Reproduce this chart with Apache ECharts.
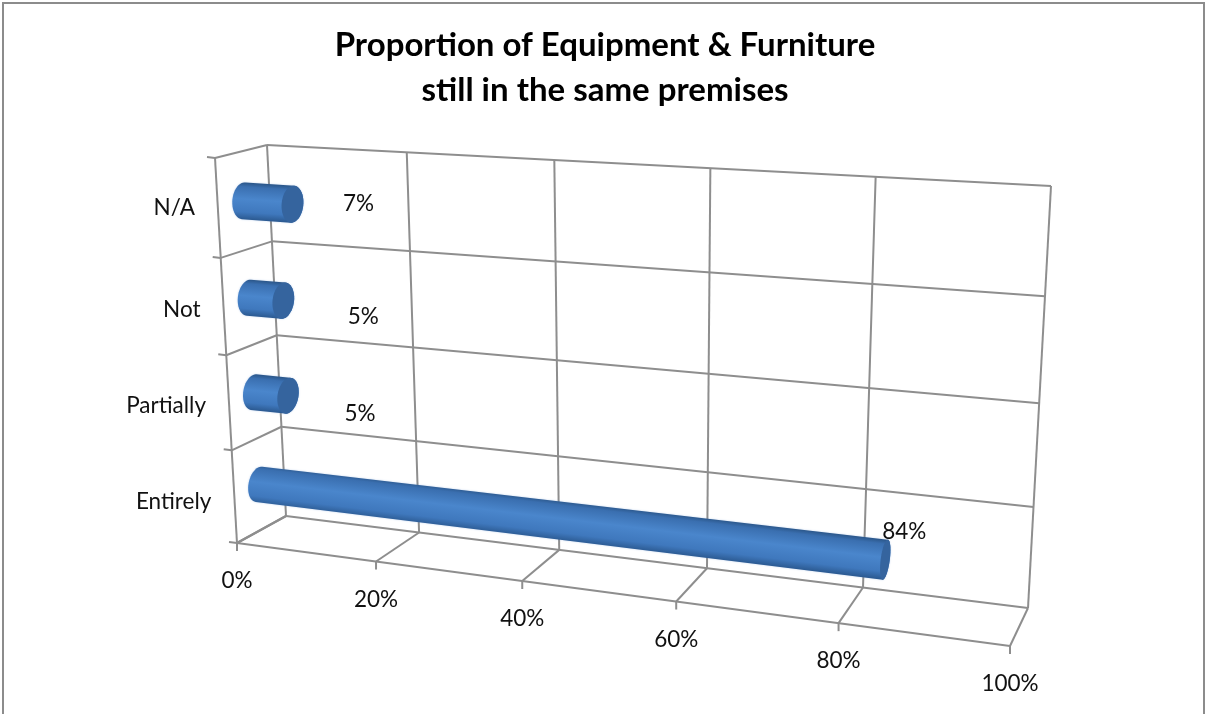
<!DOCTYPE html>
<html>
<head>
<meta charset="utf-8">
<style>html,body{margin:0;padding:0;background:#fff}#chart{width:1206px;height:714px}</style>
<script src="https://cdn.jsdelivr.net/npm/echarts@6/dist/echarts.min.js"></script>
</head>
<body>
<div id="chart"></div>
<script>
// Survey shares, bottom category first
const categories = ['Entirely', 'Partially', 'Not', 'N/A'];
const shares = [84, 5, 5, 7];
const shareLabels = ['84%', '5%', '5%', '7%'];
const valueTicks = [0, 20, 40, 60, 80, 100];
const chartTitle = 'Proportion of Equipment & Furniture\nstill in the same premises';

// Hand-placed data label offsets from the end of each cylinder
const labelNudge = { 'Entirely': [19, -28], 'Partially': [72, 18], 'Not': [80, 16], 'N/A': [66, 0] };
// Hand-placed vertical shifts of the category names
const categoryNudge = { 'Entirely': 5, 'Partially': 3, 'Not': 3, 'N/A': -1 };

// Box corners on screen: [u=0 v=0], [u=1 v=0], [u=1 v=1], [u=0 v=1]
const frontQuad = [[237, 543], [1010, 646], [1030, 210], [215, 158]];
const backQuad = [[286, 516], [1028, 608], [1051, 186], [267, 145]];

const gridBox = { left: 100, top: 100, width: 1000, height: 400 };
const FONT = 'Lato, "Open Sans", sans-serif';
const LABEL_FONT = '22.5px ' + FONT;
const LINE = '#8e8e8e';
const RADIUS_V = 0.046, RADIUS_W = 0.22, BAR_DEPTH = 0.5;

// Unit square to quadrilateral homography
function homography(q) {
  const [[x0, y0], [x1, y1], [x2, y2], [x3, y3]] = q;
  const dx1 = x1 - x2, dx2 = x3 - x2, sx = x0 - x1 + x2 - x3;
  const dy1 = y1 - y2, dy2 = y3 - y2, sy = y0 - y1 + y2 - y3;
  const den = dx1 * dy2 - dx2 * dy1;
  const g = (sx * dy2 - dx2 * sy) / den, h = (dx1 * sy - sx * dy1) / den;
  const a = x1 - x0 + g * x1, b = x3 - x0 + h * x3;
  const d = y1 - y0 + g * y1, e = y3 - y0 + h * y3;
  return (u, v) => {
    const w = g * u + h * v + 1;
    return [(a * u + b * v + x0) / w, (d * u + e * v + y0) / w];
  };
}
const front = homography(frontQuad), back = homography(backQuad);

// (value fraction, height fraction, depth fraction) to screen
function project(u, v, w) {
  const f = front(u, v), b = back(u, v);
  return [f[0] + (b[0] - f[0]) * w, f[1] + (b[1] - f[1]) * w];
}

// Grid pixels to box fractions, so the axis scales stay in charge of the values
const toU = px => (px - gridBox.left) / gridBox.width;
const toV = py => 1 - (py - gridBox.top) / gridBox.height;

function hull(points) {
  const pts = points.slice().sort((a, b) => a[0] - b[0] || a[1] - b[1]);
  const cross = (o, a, b) => (a[0] - o[0]) * (b[1] - o[1]) - (a[1] - o[1]) * (b[0] - o[0]);
  const walk = list => {
    const out = [];
    list.forEach(p => {
      while (out.length > 1 && cross(out[out.length - 2], out[out.length - 1], p) <= 0) out.pop();
      out.push(p);
    });
    out.pop();
    return out;
  };
  return walk(pts).concat(walk(pts.slice().reverse()));
}

function ring(u, v) {
  const pts = [];
  for (let i = 0; i < 48; i++) {
    const t = i / 48 * Math.PI * 2;
    pts.push(project(u, v + RADIUS_V * Math.cos(t), BAR_DEPTH + RADIUS_W * Math.sin(t)));
  }
  return pts;
}

function segment(a, b) {
  return {
    type: 'polyline',
    shape: { points: [a, b] },
    style: { stroke: LINE, lineWidth: 2, fill: null }
  };
}

// Walls, floor, tick marks and axis labels of the box
function renderFrame(params, api) {
  const tick = api.value(0);
  const u = toU(api.coord([tick, 0])[0]);
  const kids = [
    segment(project(u, 0, 0), project(u, 0, 1)),
    segment(project(u, 0, 1), project(u, 1, 1)),
    segment(project(u, 0, 0), [project(u, 0, 0)[0], project(u, 0, 0)[1] + 8])
  ];
  const base = project(u, 0, 0);
  kids.push({
    type: 'text',
    style: { text: tick + '%', x: base[0], y: base[1] + 38, align: 'center', verticalAlign: 'middle',
      fill: '#111', font: LABEL_FONT }
  });
  if (params.dataIndex === 0) {
    kids.push(segment(project(0, 0, 0), project(1, 0, 0)));
    kids.push(segment(project(0, 0, 0), project(0, 1, 0)));
    const bandH = api.size([0, 1])[1];
    for (let i = 0; i < categories.length; i++) {
      const mid = api.coord([0, i])[1];
      [mid + bandH / 2, mid - bandH / 2].forEach((py, side) => {
        if (i > 0 && side === 0) return;
        const v = toV(py);
        const p = project(0, v, 0);
        kids.push(segment(p, project(0, v, 1)));
        kids.push(segment(project(0, v, 1), project(1, v, 1)));
        kids.push(segment(p, [p[0] - 8, p[1] - 1]));
      });
      const c = project(0, toV(mid), 0);
      kids.push({
        type: 'text',
        style: { text: categories[i], x: c[0] - 23, y: c[1] + categoryNudge[categories[i]], align: 'right', verticalAlign: 'middle',
          fill: '#111', font: LABEL_FONT }
      });
    }
  }
  return { type: 'group', children: kids };
}

// One cylinder: silhouette with a rounded shading plus the darker end cap
function renderBar(params, api) {
  const i = params.dataIndex;
  const p = api.coord([api.value(0), api.value(1)]);
  const u1 = toU(p[0]), v = toV(p[1]);
  const u0 = toU(api.coord([0, i])[0]);
  const startRing = ring(u0, v), endRing = ring(u1, v);
  const a = project(u0, v, BAR_DEPTH), b = project(u1, v, BAR_DEPTH);
  const len = Math.hypot(b[0] - a[0], b[1] - a[1]);
  const nx = -(b[1] - a[1]) / len, ny = (b[0] - a[0]) / len;
  const mx = (a[0] + b[0]) / 2, my = (a[1] + b[1]) / 2;
  let reach = 0;
  endRing.concat(startRing).forEach(q => { reach = Math.max(reach, Math.abs((q[0] - a[0]) * nx + (q[1] - a[1]) * ny)); });
  const shade = {
    type: 'linear', global: true,
    x: mx - nx * reach, y: my - ny * reach, x2: mx + nx * reach, y2: my + ny * reach,
    colorStops: [
      { offset: 0, color: '#2a5587' }, { offset: 0.12, color: '#3a6fb0' },
      { offset: 0.45, color: '#4a86cc' }, { offset: 0.8, color: '#3f78bd' },
      { offset: 1, color: '#2b5990' }
    ]
  };
  const name = categories[i];
  const nudge = labelNudge[name];
  return {
    type: 'group',
    children: [
      { type: 'polygon', shape: { points: hull(startRing.concat(endRing)) },
        style: { fill: shade, shadowBlur: 2, shadowColor: 'rgba(90,140,210,0.4)' } },
      { type: 'polygon', shape: { points: endRing }, style: { fill: '#35649e' } },
      { type: 'text',
        style: { text: shareLabels[i], x: b[0] + nudge[0], y: b[1] + nudge[1], align: 'center', verticalAlign: 'middle',
          fill: '#111', font: LABEL_FONT } }
    ]
  };
}

const chart = echarts.init(document.getElementById('chart'), null, { renderer: 'canvas' });
chart.setOption({
  animation: false,
  backgroundColor: '#fff',
  title: {
    text: chartTitle,
    left: 600, top: 18, textAlign: 'center',
    textStyle: { fontFamily: FONT, fontWeight: 'bold', fontSize: 33, lineHeight: 45, color: '#000' }
  },
  grid: gridBox,
  xAxis: { type: 'value', min: 0, max: 100, interval: 20, show: false },
  yAxis: { type: 'category', data: categories, show: false },
  graphic: [{
    type: 'rect', silent: true, z: -1,
    shape: { x: 3, y: 3, width: 1201, height: 760 },
    style: { fill: null, stroke: '#8c8c8c', lineWidth: 2 }
  }],
  series: [
    { type: 'custom', name: 'frame', coordinateSystem: 'cartesian2d', z: 1, silent: true,
      data: valueTicks.map(t => [t, 0]), encode: { x: 0, y: 1 }, renderItem: renderFrame },
    { type: 'custom', name: 'share', coordinateSystem: 'cartesian2d', z: 2, silent: true,
      data: shares.map((s, i) => [s, i]), encode: { x: 0, y: 1 }, renderItem: renderBar }
  ]
});
</script>
</body>
</html>
